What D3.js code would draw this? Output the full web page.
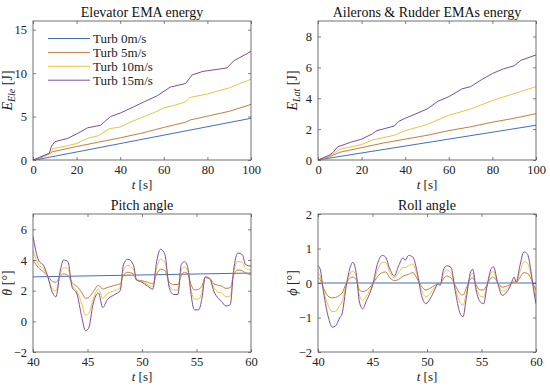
<!DOCTYPE html>
<html>
<head>
<meta charset="utf-8">
<script src="https://cdn.jsdelivr.net/npm/d3@7"></script>
<style>
  body { margin: 0; background: #fff; }
  svg { font-family: "Liberation Serif", "DejaVu Serif", serif; }
  .tick text { font-size: 12.5px; fill: #222; font-family: "Liberation Serif", serif; }
</style>
</head>
<body>
<svg width="550" height="388"></svg>
<script>
// series names and colours
var seriesNames = ["Turb 0m/s", "Turb 5m/s", "Turb 10m/s", "Turb 15m/s"];
var seriesColors = ["#3f6fc0", "#c47e3e", "#ebc440", "#7e4f9c"];

// Elevator EMA energy [J] vs t [s]
var eleT0 = [0, 2, 100];
var eleE0 = [0, 0.05, 4.8];
var eleT5 = [0, 3, 8, 9, 20, 30, 40, 50, 60, 70, 72, 80, 90, 100];
var eleE5 = [0, 0.2, 0.75, 0.95, 1.55, 2.05, 2.55, 3.1, 3.75, 4.35, 4.6, 5.05, 5.6, 6.4];
var eleT10 = [0, 3, 8, 9, 15, 20, 25, 30, 35, 40, 45, 50, 55, 60, 65, 70, 72, 80, 90, 100];
var eleE10 = [0, 0.3, 0.8, 1.3, 1.6, 1.9, 2.5, 2.8, 3.6, 3.8, 4.4, 4.9, 5.4, 6.0, 6.3, 6.7, 7.2, 7.6, 8.3, 9.3];
var eleT15 = [0, 3, 7.5, 8.5, 10, 16, 20, 25, 31, 35.5, 40, 46, 51, 57, 63, 70, 73, 78, 89, 92, 100];
var eleE15 = [0, 0.3, 0.8, 1.6, 2.1, 2.5, 3.0, 3.7, 4.0, 5.0, 5.4, 6.1, 6.7, 7.4, 8.4, 8.8, 9.8, 10.2, 10.6, 11.4, 12.5];

// Ailerons & Rudder EMAs energy [J] vs t [s]
var latT0 = [0, 2, 100];
var latE0 = [0, 0.05, 2.25];
var latT5 = [0, 5, 10, 20, 30, 40, 50, 60, 70, 80, 90, 100];
var latE5 = [0, 0.2, 0.5, 0.8, 1.1, 1.35, 1.6, 1.9, 2.15, 2.45, 2.7, 3.0];
var latT10 = [0, 5, 8, 10, 20, 25, 35, 40, 50, 60, 70, 80, 90, 100];
var latE10 = [0, 0.25, 0.5, 0.7, 1.0, 1.3, 1.6, 1.9, 2.3, 2.9, 3.3, 3.85, 4.3, 4.75];
var latT15 = [0, 5, 7, 9, 15, 20, 25, 27, 35, 37, 40, 50, 55, 60, 66, 70, 75, 80, 85, 90, 93, 100];
var latE15 = [0, 0.3, 0.5, 0.85, 1.15, 1.35, 1.7, 1.9, 2.2, 2.5, 2.7, 3.3, 3.8, 4.1, 4.6, 4.75, 5.2, 5.6, 5.9, 6.1, 6.45, 6.8];

// Pitch angle [deg] vs t [s]
var pitchT0 = [40, 60];
var pitchV0 = [2.9, 3.15];
var pitchT = [40, 40.5, 41, 41.3, 41.8, 42.1, 42.5, 42.8, 43.2, 43.6, 44, 44.5, 44.8, 45.1, 45.5, 46, 46.4, 46.8, 47.5, 48,
              48.3, 48.7, 49.2, 49.5, 50, 50.5, 51, 51.3, 51.7, 52.1, 52.5, 52.9, 53.3, 53.6, 53.9, 54.2, 54.5, 54.8, 55.2, 55.5,
              55.8, 56.2, 56.6, 57, 57.3, 57.7, 58.1, 58.4, 58.8, 59.2, 59.5, 60];
var pitchV5 = [4.0, 3.5, 3.2, 3.0, 2.6, 2.55, 2.95, 3.1, 3.0, 2.5, 2.3, 1.85, 1.5, 1.55, 1.9, 2.35, 2.1, 2.2, 2.35, 2.45,
               3.0, 3.2, 3.1, 2.7, 2.65, 2.55, 2.45, 3.0, 3.4, 3.3, 2.55, 2.4, 2.4, 3.0, 3.2, 3.1, 2.4, 2.05, 2.1, 2.3,
               2.85, 2.8, 2.45, 2.35, 2.3, 2.15, 2.2, 3.0, 3.35, 3.3, 3.15, 3.05];
var pitchV10 = [4.6, 3.7, 3.4, 3.0, 2.1, 2.0, 3.1, 3.5, 3.45, 2.3, 2.0, 1.1, 0.4, 0.5, 1.4, 2.1, 1.5, 1.8, 2.0, 2.2,
                3.35, 3.65, 3.4, 2.7, 2.6, 2.4, 2.25, 3.35, 4.05, 3.85, 2.35, 2.05, 2.05, 3.35, 3.55, 3.3, 2.05, 1.45, 1.45, 1.9,
                2.85, 2.8, 2.2, 1.9, 1.85, 1.6, 1.65, 3.15, 3.9, 3.85, 3.45, 3.35];
var pitchV15 = [5.55, 4.0, 3.6, 3.05, 1.85, 1.6, 3.3, 4.0, 3.9, 2.2, 1.85, 0.2, -0.6, -0.45, 1.1, 1.85, 0.9, 1.4, 1.75, 2.0,
                3.7, 4.05, 3.7, 2.7, 2.55, 2.3, 2.1, 3.7, 4.7, 4.35, 2.2, 1.75, 1.75, 3.7, 3.9, 3.5, 1.75, 0.75, 0.75, 1.5,
                2.9, 2.8, 1.95, 1.5, 1.3, 1.0, 1.1, 3.3, 4.45, 4.35, 3.7, 3.6];

// Roll angle [deg] vs t [s]
var rollT0 = [40, 60];
var rollV0 = [0, 0];
var rollT = [40, 40.2, 40.5, 41, 41.3, 41.6, 42, 42.2, 42.6, 43, 43.2, 43.5, 43.8, 44.1, 44.4, 45, 45.5, 45.9, 46.2, 46.6,
             47, 47.4, 47.8, 48, 48.3, 48.7, 49.1, 49.5, 49.9, 50.3, 50.7, 51, 51.2, 51.5, 51.8, 52.2, 52.6, 53, 53.3, 53.6,
             54, 54.2, 54.5, 54.9, 55.2, 55.5, 55.9, 56.1, 56.5, 56.9, 57.2, 57.6, 58, 58.2, 58.5, 58.9, 59.2, 59.5, 59.8, 60];
var rollV5 = [0.15, 0.1, -0.15, -0.4, -0.43, -0.42, -0.35, -0.3, 0, 0.15, 0.17, 0.1, -0.2, -0.25, -0.22, -0.03, 0.2, 0.3, 0.32, 0.15,
              0.07, 0.1, 0.2, 0.22, 0.25, 0.3, 0.12, -0.1, -0.2, -0.15, -0.07, -0.02, -0.02, 0.12, 0.2, 0.15, -0.07, -0.3, -0.35, -0.15,
              0.12, 0.15, -0.05, -0.2, -0.2, -0.05, 0.15, 0.17, 0, -0.12, -0.1, -0.05, 0.03, 0.02, 0.15, 0.3, 0.28, 0.15, -0.07, -0.2];
var rollV10 = [0.3, 0.2, -0.2, -0.7, -0.83, -0.82, -0.65, -0.55, -0.05, 0.3, 0.35, 0.2, -0.35, -0.5, -0.4, -0.05, 0.4, 0.6, 0.6, 0.3,
               0.15, 0.3, 0.45, 0.45, 0.5, 0.55, 0.22, -0.2, -0.4, -0.3, -0.13, -0.02, -0.04, 0.25, 0.38, 0.3, -0.15, -0.55, -0.65, -0.3,
               0.22, 0.28, -0.12, -0.38, -0.4, -0.08, 0.3, 0.33, 0, -0.23, -0.2, -0.08, 0.1, 0.03, 0.3, 0.62, 0.58, 0.3, -0.15, -0.4];
var rollV15 = [0.5, 0.4, -0.25, -1.05, -1.28, -1.25, -1.0, -0.9, -0.07, 0.5, 0.6, 0.3, -0.55, -0.75, -0.55, -0.07, 0.6, 0.8, 0.75, 0.4,
               0.2, 0.5, 0.73, 0.66, 0.8, 0.75, 0.32, -0.36, -0.6, -0.45, -0.2, -0.02, -0.07, 0.37, 0.5, 0.45, -0.25, -0.85, -0.98, -0.45,
               0.32, 0.4, -0.2, -0.55, -0.6, -0.1, 0.42, 0.47, -0.02, -0.36, -0.3, -0.12, 0.17, 0.03, 0.47, 0.9, 0.85, 0.42, -0.25, -0.6];

function zip(xs, ys) { return xs.map(function (x, i) { return [x, ys[i]]; }); }

var panels = [
  { title: "Elevator EMA energy", x0: 33, x1: 251, y0: 21, y1: 160, xdom: [0, 100], ydom: [0, 16],
    xticks: [0, 20, 40, 60, 80, 100], yticks: [0, 5, 10, 15],
    ylab: ["E", "Ele", " [J]"], curve: d3.curveLinear, legend: true,
    series: [zip(eleT0, eleE0), zip(eleT5, eleE5), zip(eleT10, eleE10), zip(eleT15, eleE15)] },
  { title: "Ailerons & Rudder EMAs energy", x0: 318, x1: 536, y0: 21, y1: 160, xdom: [0, 100], ydom: [0, 9],
    xticks: [0, 20, 40, 60, 80, 100], yticks: [0, 2, 4, 6, 8],
    ylab: ["E", "Lat", " [J]"], curve: d3.curveLinear,
    series: [zip(latT0, latE0), zip(latT5, latE5), zip(latT10, latE10), zip(latT15, latE15)] },
  { title: "Pitch angle", x0: 33, x1: 251, y0: 214, y1: 352, xdom: [40, 60], ydom: [-2, 7],
    xticks: [40, 45, 50, 55, 60], yticks: [-2, 0, 2, 4, 6],
    ylab: ["θ", "", " [°]"], curve: d3.curveMonotoneX,
    series: [zip(pitchT0, pitchV0), zip(pitchT, pitchV5), zip(pitchT, pitchV10), zip(pitchT, pitchV15)] },
  { title: "Roll angle", x0: 318, x1: 536, y0: 214, y1: 352, xdom: [40, 60], ydom: [-2, 2],
    xticks: [40, 45, 50, 55, 60], yticks: [-2, -1, 0, 1, 2],
    ylab: ["ϕ", "", " [°]"], curve: d3.curveMonotoneX,
    series: [zip(rollT0, rollV0), zip(rollT, rollV5), zip(rollT, rollV10), zip(rollT, rollV15)] }
];

var svg = d3.select("svg");
var axisColor = "#4d4d4d";
var serif = "Liberation Serif, DejaVu Serif, serif";

panels.forEach(function (p) {
  var x = d3.scaleLinear().domain(p.xdom).range([p.x0, p.x1]);
  var y = d3.scaleLinear().domain(p.ydom).range([p.y1, p.y0]);
  var g = svg.append("g");
  var w = p.x1 - p.x0, h = p.y1 - p.y0;

  var id = "clip" + p.x0 + "_" + p.y0;
  svg.append("clipPath").attr("id", id).append("rect")
    .attr("x", p.x0).attr("y", p.y0).attr("width", w).attr("height", h);

  var line = d3.line().x(function (d) { return x(d[0]); }).y(function (d) { return y(d[1]); }).curve(p.curve);
  var plot = g.append("g").attr("clip-path", "url(#" + id + ")");
  p.series.forEach(function (s, i) {
    plot.append("path").datum(s)
      .attr("d", line)
      .attr("fill", "none")
      .attr("stroke", seriesColors[i])
      .attr("stroke-width", 1)
      .attr("stroke-linejoin", "round");
  });

  // axes, ticks pointing in on all four sides
  function styleAxis(sel) {
    sel.attr("font-family", serif).attr("font-size", 12.5);
    sel.select(".domain").remove();
    sel.selectAll(".tick line").attr("stroke", axisColor).attr("stroke-width", 0.7);
  }
  g.append("g").attr("transform", "translate(0," + p.y1 + ")")
    .call(d3.axisBottom(x).tickValues(p.xticks).tickSize(-3).tickPadding(6).tickFormat(d3.format("d")))
    .call(styleAxis)
    .selectAll("text").attr("dy", "0.6em");
  g.append("g").attr("transform", "translate(0," + p.y0 + ")")
    .call(d3.axisTop(x).tickValues(p.xticks).tickSize(-3).tickFormat(""))
    .call(styleAxis);
  g.append("g").attr("transform", "translate(" + p.x0 + ",0)")
    .call(d3.axisLeft(y).tickValues(p.yticks).tickSize(-3).tickPadding(6).tickFormat(d3.format("d")))
    .call(styleAxis);
  g.append("g").attr("transform", "translate(" + p.x1 + ",0)")
    .call(d3.axisRight(y).tickValues(p.yticks).tickSize(-3).tickFormat(""))
    .call(styleAxis);

  g.append("rect")
    .attr("x", p.x0).attr("y", p.y0).attr("width", w).attr("height", h)
    .attr("fill", "none").attr("stroke", axisColor).attr("stroke-width", 0.8);

  // title
  g.append("text")
    .attr("x", (p.x0 + p.x1) / 2).attr("y", p.y0 - 4.5)
    .attr("text-anchor", "middle").attr("font-size", 14).attr("fill", "#111")
    .text(p.title);

  // x label
  var xl = g.append("text")
    .attr("x", (p.x0 + p.x1) / 2).attr("y", p.y1 + 29)
    .attr("text-anchor", "middle").attr("font-size", 13).attr("fill", "#222");
  xl.append("tspan").attr("font-style", "italic").text("t");
  xl.append("tspan").text(" [s]");

  // y label
  var yl = g.append("text")
    .attr("transform", "translate(" + (p.x0 - 21) + "," + ((p.y0 + p.y1) / 2) + ") rotate(-90)")
    .attr("text-anchor", "middle").attr("font-size", 14).attr("fill", "#222");
  yl.append("tspan").attr("font-style", "italic").text(p.ylab[0]);
  if (p.ylab[1]) {
    yl.append("tspan").attr("font-style", "italic").attr("font-size", 10).attr("dy", 3).text(p.ylab[1]);
    yl.append("tspan").attr("dy", -3).text(p.ylab[2]);
  } else {
    yl.append("tspan").text(p.ylab[2]);
  }

  // legend
  if (p.legend) {
    var lg = g.append("g");
    seriesNames.forEach(function (n, i) {
      var ly = 38.5 + i * 13.9;
      lg.append("line").attr("x1", 48).attr("x2", 90).attr("y1", ly).attr("y2", ly)
        .attr("stroke", seriesColors[i]).attr("stroke-width", 1);
      lg.append("text").attr("x", 93).attr("y", ly + 4.5)
        .attr("font-size", 13).attr("fill", "#222").text(n);
    });
  }
});
</script>
</body>
</html>
